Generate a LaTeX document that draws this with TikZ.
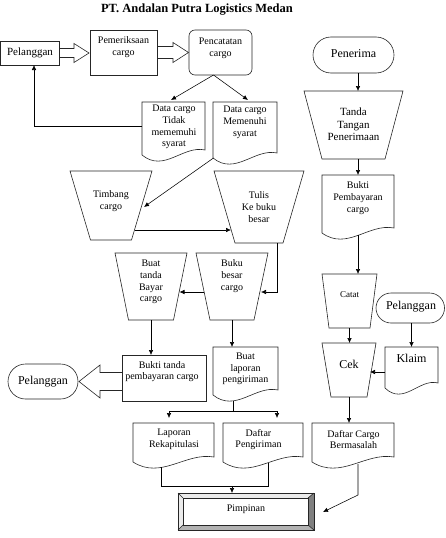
\documentclass[tikz,border=0pt]{standalone}
\usepackage{fontspec}
\setmainfont{Liberation Serif}
\usetikzlibrary{arrows.meta,calc}
\tikzset{
  shp/.style={draw=black!85, line width=0.6pt},
  box/.style={shp, inner sep=0pt, outer sep=0pt},
  ghost/.style={inner sep=0pt, outer sep=0pt, draw=none},
  sm/.style={align=center, inner sep=0pt, font=\fontsize{10}{11.7}\selectfont},
  md/.style={align=center, inner sep=0pt, font=\fontsize{11}{12.5}\selectfont},
  lg/.style={align=center, inner sep=0pt, font=\fontsize{12}{14}\selectfont},
  con/.style={line width=0.55pt, draw=black},
  arr/.style={con, -{Latex[length=5pt,width=4.5pt]}},
}
\begin{document}
\begin{tikzpicture}[x=1pt,y=-1pt]
\useasboundingbox (0,0) rectangle (445,538);

% title
\node[inner sep=0pt, font=\fontsize{12.5}{14}\selectfont\bfseries] (title) at (197,9.5) {PT. Andalan Putra Logistics Medan};

% rectangles / rounded
\node[box, minimum width=58.5pt, minimum height=24pt] (pelA) at (29.75,53) {};
\node[box, minimum width=67pt, minimum height=45pt] (pem) at (123.5,52.5) {};
\node[box, rounded corners=6pt, minimum width=63pt, minimum height=45pt] (penc) at (220.5,52.5) {};
\node[box, rounded corners=18pt, minimum width=81pt, minimum height=36pt] (pener) at (353.5,55) {};
\node[box, rounded corners=15pt, minimum width=68.5pt, minimum height=30pt] (pelB) at (410.25,308) {};
\node[box, minimum width=84pt, minimum height=46pt] (bukti) at (164,378) {};
\node[box, rounded corners=17.5pt, minimum width=70pt, minimum height=35pt] (pelC) at (43,381.5) {};

% trapezoids (manual operation)
\node[ghost, minimum width=99pt, minimum height=68pt] (tanda) at (353.5,125) {};
\node[ghost, minimum width=55pt, minimum height=54pt] (catat) at (349.5,301) {};
\node[ghost, minimum width=54pt, minimum height=54pt] (cek) at (349,370) {};
\node[ghost, minimum width=72pt, minimum height=67pt] (btb) at (151,286.5) {};
\node[ghost, minimum width=72pt, minimum height=67pt] (buku) at (232,286.5) {};
\node[ghost, minimum width=82pt, minimum height=69pt] (timb) at (111,205.5) {};
\node[ghost, minimum width=90pt, minimum height=72pt] (tulis) at (259,207) {};
\foreach \n/\i in {tanda/18,catat/7,cek/9,btb/13.5,buku/14,timb/20.5,tulis/21}{
  \draw[shp] (\n.north west) -- (\n.north east) -- ($(\n.south east)+(-\i,0)$) -- ($(\n.south west)+(\i,0)$) -- cycle;
}

% documents
\node[ghost, minimum width=72pt, minimum height=58pt] (bpem) at (358,204) {};
\node[ghost, minimum width=53pt, minimum height=41pt] (klaim) at (411.5,367.5) {};
\node[ghost, minimum width=82pt, minimum height=39pt] (dcb) at (353,442.5) {};
\node[ghost, minimum width=81pt, minimum height=39pt] (lap) at (173.5,442.5) {};
\node[ghost, minimum width=80pt, minimum height=39pt] (dpeng) at (263,442.5) {};
\node[ghost, minimum width=65pt, minimum height=48pt] (blap) at (245.5,371) {};
\node[ghost, minimum width=63pt, minimum height=53pt] (dtm) at (173.5,128.5) {};
\node[ghost, minimum width=64pt, minimum height=56pt] (dm) at (245,130) {};
\foreach \n in {bpem,klaim,dcb,lap,dpeng,blap,dtm,dm}{
  \draw[shp] (\n.south west) -- (\n.north west) -- (\n.north east) -- ($(\n.south east)+(0,-5)$)
    .. controls ($(\n.south west)!0.65!(\n.south east)+(0,-10)$) and ($(\n.south west)!0.35!(\n.south east)+(0,18)$) .. (\n.south west) -- cycle;
}

% Pimpinan (bevel)
\node[ghost, minimum width=136pt, minimum height=37pt] (pimp) at (246,511.5) {};
\fill[black!8] (pimp.north west) -- (pimp.north east) -- ($(pimp.north east)+(-6,5)$) -- ($(pimp.north west)+(5,5)$) -- cycle;
\fill[black!8] (pimp.north west) -- (pimp.south west) -- ($(pimp.south west)+(5,-5)$) -- ($(pimp.north west)+(5,5)$) -- cycle;
\fill[black!50] (pimp.north east) -- (pimp.south east) -- ($(pimp.south east)+(-6,-5)$) -- ($(pimp.north east)+(-6,5)$) -- cycle;
\fill[black!30] (pimp.south west) -- (pimp.south east) -- ($(pimp.south east)+(-6,-5)$) -- ($(pimp.south west)+(5,-5)$) -- cycle;
\draw[shp] (pimp.south west) rectangle (pimp.north east);
\draw[shp] ($(pimp.north west)+(5,5)$) rectangle ($(pimp.south east)+(-6,-5)$);
\draw[shp] (pimp.north west) -- ++(5,5) (pimp.south west) -- ++(5,-5)
  (pimp.north east) -- ++(-6,5) (pimp.south east) -- ++(-6,-5);

% texts
\node[md] (t-pelA) at (30,53) {Pelanggan};
\node[sm] (t-pem) at (123.5,47) {Pemeriksaan\\cargo};
\node[sm] (t-penc) at (220.5,48.5) {Pencatatan\\cargo};
\node[lg] (t-pener) at (353.5,54) {Penerima};
\node[md] (t-tanda) at (353.5,124.5) {Tanda\\Tangan\\Penerimaan};
\node[sm] (t-bpem) at (358,198) {Bukti\\Pembayaran\\cargo};
\node[inner sep=0pt, font=\fontsize{9}{11}\selectfont] (t-catat) at (349.5,295) {Catat};
\node[lg] (t-cek) at (349,364) {Cek};
\node[lg] (t-pelB) at (411,307) {Pelanggan};
\node[lg] (t-klaim) at (411.5,358) {Klaim};
\node[sm] (t-dcb) at (353.5,439.5) {Daftar Cargo\\Bermasalah};
\node[sm] (t-lap) at (174,439.5) {Laporan\\Rekapitulasi};
\node[sm] (t-dpeng) at (258.5,439.5) {Daftar\\Pengiriman};
\node[sm] (t-pimp) at (246,509.5) {Pimpinan};
\node[sm] (t-blap) at (245.5,369) {Buat\\laporan\\pengiriman};
\node[sm] (t-bukti) at (162,371.5) {Bukti tanda\\pembayaran cargo};
\node[lg] (t-pelC) at (43,381.5) {Pelanggan};
\node[sm] (t-btb) at (151,282) {Buat\\tanda\\Bayar\\cargo};
\node[sm] (t-buku) at (232,276) {Buku\\besar\\cargo};
\node[sm] (t-timb) at (111,201) {Timbang\\cargo};
\node[sm] (t-tulis) at (259,207) {Tulis\\Ke buku\\besar};
\node[sm] (t-dtm) at (174,127) {Data cargo\\Tidak\\mememuhi\\syarat};
\node[sm] (t-dm) at (245,122.5) {Data cargo\\Memenuhi\\syarat};

% block arrows
\draw[shp] ($(pelA.east)+(0,-4.5)$) -- ++(15,0) -- ++(0,-5) -- ($(pem.west)+(-1,0.5)$)
  -- ($(pelA.east)+(15,9.5)$) -- ++(0,-5) -- ($(pelA.east)+(0,4.5)$);
\draw[shp] ($(pem.east)+(0,-6)$) -- ++(16,0) -- ++(0,-4) -- ($(penc.west)+(-0.5,0)$)
  -- ($(pem.east)+(16,10)$) -- ++(0,-4) -- ($(pem.east)+(0,6)$);
\draw[shp] ($(bukti.west |- pelC.east)+(0,-9)$) -- ++(-22,0) -- ++(0,-7.5) -- ($(pelC.east)+(1,0)$)
  -- ($(bukti.west |- pelC.east)+(-22,16.5)$) -- ++(0,-7.5) -- ($(bukti.west |- pelC.east)+(0,9)$);

% connectors
\draw[arr] ($(penc.south)+(-7,0)$) -- ($(dtm.north)+(-2.5,-2)$);
\draw[arr] ($(penc.south)+(-7,0)$) -- ($(dm.north)+(3,-2)$);
\draw[arr] ($(dtm.west)+(0,-2.5)$) -| ($(pelA.south)+(4.25,0)$);
\draw[arr] ($(dm.south west)+(0.5,0)$) -- ($(timb.east)+(-8,1.5)$);
\draw[arr] ($(timb.east)+(-17,24.5)$) -- ($(tulis.west)+(17,23)$);
\draw[arr] ($(tulis.south)+(18,0)$) |- ($(buku.east)+(-7,5.5)$);
\draw[arr] ($(buku.west)+(8,5.5)$) -- ($(btb.east)+(-7.5,5.5)$);
\draw[arr] (btb.south) -- (btb.south |- bukti.north);
\draw[arr] (buku.south) -- (buku.south |- blap.north);
\draw[con] ($(blap.south)+(-12.5,5.5)$) -- ($(blap.south)+(-12.5,16)$);
\draw[arr] ($(blap.south)+(-12.5,16)$) -| ($(lap.north)+(-4.5,-5)$);
\draw[arr] ($(blap.south)+(-12.5,16)$) -| ($(dpeng.north)+(14,-5)$);
\draw[con] ($(lap.south)+(-12.5,5)$) |- ($(dpeng.south)+(5,24)$) -- ($(dpeng.south)+(5,1)$);
\draw[arr] ($(pimp.north)+(-14,-7)$) -- ($(pimp.north)+(-14,0)$);

\draw[arr] ($(pener.south)+(4.5,0)$) -- ($(tanda.north)+(4.5,0)$);
\draw[arr] (bpem.north |- tanda.south) -- (bpem.north);
\draw[arr] ($(bpem.south)+(0,2)$) -- (bpem.south |- catat.north);
\draw[arr] (catat.south) -- (catat.south |- cek.north);
\draw[arr] (klaim.north |- pelB.south) -- (klaim.north);
\draw[arr] ($(klaim.west)+(0,4.5)$) -- ($(cek.east)+(-6,2)$);
\draw[arr] (cek.south) -- (cek.south |- dcb.north);
\draw[arr] ($(dcb.south)+(5,2)$) -- ++(0,31) -- ($(pimp.east)+(9,0.5)$);
\end{tikzpicture}
\end{document}
